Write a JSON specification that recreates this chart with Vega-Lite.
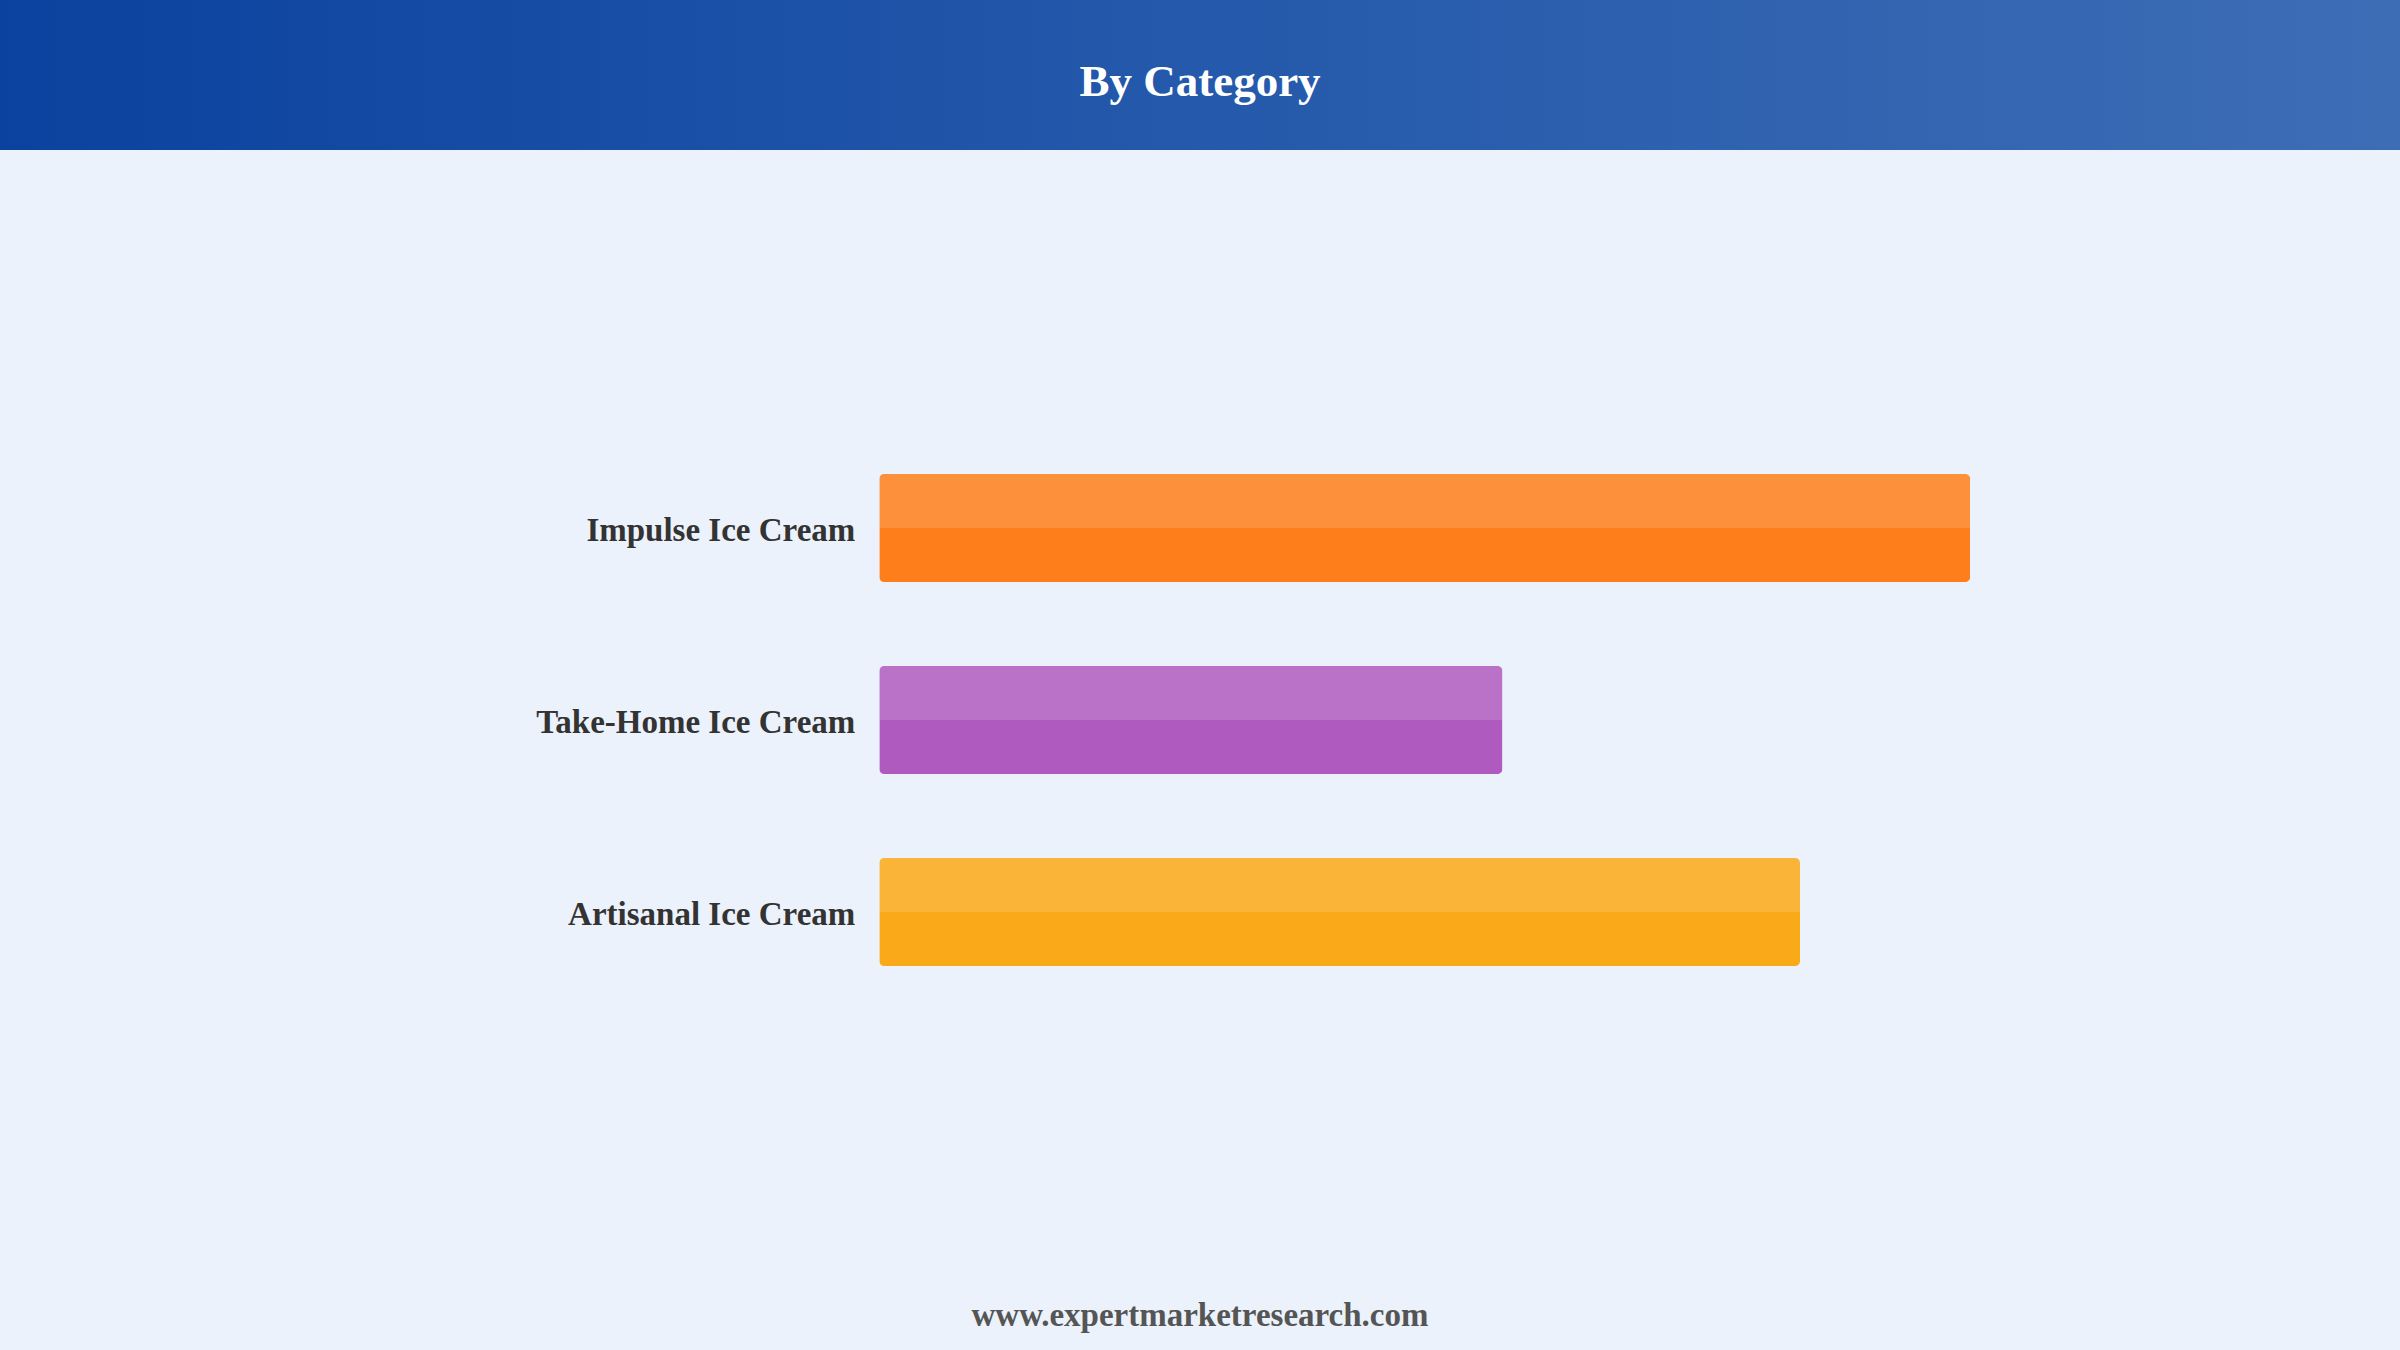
{
  "$schema": "https://vega.github.io/schema/vega-lite/v6.json",
  "background": "#EBF2FB",
  "padding": {"left": 0, "top": 0, "right": 0, "bottom": 20},
  "spacing": 132,
  "title": {
    "text": "www.expertmarketresearch.com",
    "orient": "bottom",
    "anchor": "middle",
    "frame": "bounds",
    "offset": 142,
    "fontSize": 33,
    "font": "Liberation Serif",
    "fontWeight": "bold",
    "color": "#555555"
  },
  "config": {"view": {"stroke": null}, "font": "Liberation Serif"},
  "vconcat": [
    {
      "width": 2400,
      "height": 150,
      "data": {"values": [{"title": "By Category"}]},
      "layer": [
        {
          "mark": {
            "type": "rect",
            "fill": {
              "gradient": "linear",
              "x1": 0, "y1": 0, "x2": 1, "y2": 0,
              "stops": [
                {"offset": 0, "color": "#0B429F"},
                {"offset": 0.5, "color": "#2459AB"},
                {"offset": 1, "color": "#3D6DB5"}
              ]
            }
          },
          "encoding": {
            "x": {"value": 0},
            "x2": {"value": "width"},
            "y": {"value": 0},
            "y2": {"value": "height"}
          }
        },
        {
          "mark": {
            "type": "text",
            "font": "Liberation Serif",
            "fontWeight": "bold",
            "fontSize": 45,
            "color": "#FFFFFF",
            "align": "center",
            "baseline": "alphabetic",
            "dy": 21
          },
          "encoding": {"text": {"field": "title", "type": "nominal"}}
        }
      ]
    },
    {
      "width": 2400,
      "height": 876,
      "data": {
        "values": [
          {"category": "Impulse Ice Cream", "value": 50.0},
          {"category": "Take-Home Ice Cream", "value": 28.56},
          {"category": "Artisanal Ice Cream", "value": 42.2}
        ]
      },
      "encoding": {
        "y": {
          "field": "category",
          "type": "nominal",
          "sort": null,
          "scale": {"paddingInner": 0.4375, "paddingOuter": 1},
          "axis": null
        }
      },
      "layer": [
        {
          "mark": {"type": "bar", "cornerRadius": 5},
          "encoding": {
            "x": {
              "field": "value",
              "type": "quantitative",
              "scale": {"domain": [-40.3, 69.7], "nice": false, "zero": false},
              "axis": null
            },
            "color": {
              "field": "category",
              "type": "nominal",
              "scale": {
                "domain": ["Impulse Ice Cream", "Take-Home Ice Cream", "Artisanal Ice Cream"],
                "range": ["#FD7E1A", "#AF5ABF", "#FAA919"]
              },
              "legend": null
            }
          }
        },
        {
          "mark": {
            "type": "bar",
            "color": "#FFFFFF",
            "opacity": 0.14,
            "height": 54,
            "yOffset": -27,
            "cornerRadiusTopLeft": 5,
            "cornerRadiusTopRight": 5,
            "cornerRadiusBottomRight": 2
          },
          "encoding": {
            "x": {"field": "value", "type": "quantitative"}
          }
        },
        {
          "mark": {
            "type": "text",
            "align": "right",
            "baseline": "middle",
            "dx": -24,
            "dy": 3,
            "font": "Liberation Serif",
            "fontWeight": "bold",
            "fontSize": 33,
            "color": "#333333"
          },
          "encoding": {
            "x": {"datum": 0, "type": "quantitative"},
            "text": {"field": "category", "type": "nominal"}
          }
        }
      ]
    }
  ]
}
